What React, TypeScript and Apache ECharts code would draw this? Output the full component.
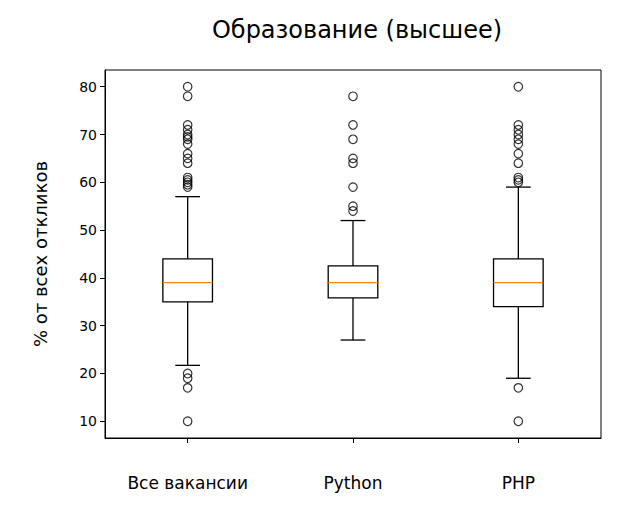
import React, { useEffect, useRef } from "react";
import * as echarts from "echarts";

const categories = ["Все вакансии", "Python", "PHP"];
const whiskerLow = [21.7, 27, 19];
const q1 = [35, 35.8, 34];
const medians = [39, 39, 39];
const q3 = [44, 42.5, 44];
const whiskerHigh = [57, 52, 59];
const outliersAll = [80, 78, 72, 71, 70, 69.5, 69, 68, 66, 65, 64, 61, 60.5, 60, 59.5, 59, 20, 19, 17, 10];
const outliersPython = [78, 72, 69, 65, 64, 59, 55, 54];
const outliersPHP = [80, 72, 71, 70, 69, 68, 66, 64, 61, 60.5, 60, 17, 10];
const yTickValues = [10, 20, 30, 40, 50, 60, 70, 80];
const yRange = { min: 6.5, max: 83.5 };

const FONT = "DejaVu Sans";

export default function App() {
  const ref = useRef<HTMLDivElement>(null);
  useEffect(() => {
    const chart = echarts.init(ref.current!, null, { renderer: "svg" });
    const boxData = categories.map((_, i) => [i, whiskerLow[i], q1[i], medians[i], q3[i], whiskerHigh[i]]);
    const outlierData: number[][] = [];
    [outliersAll, outliersPython, outliersPHP].forEach((arr, i) => arr.forEach((v) => outlierData.push([i, v])));
    const option: any = {
      animation: false,
      backgroundColor: "#ffffff",
      title: {
        text: "Образование (высшее)",
        left: 352,
        textAlign: "center",
        top: 13,
        textStyle: { fontFamily: FONT, fontSize: 24, fontWeight: "normal", color: "#000" },
      },
      grid: { left: 105, right: 38, top: 70, bottom: 76, show: true, borderColor: "#000", borderWidth: 1 },
      xAxis: {
        type: "category",
        data: categories,
        boundaryGap: true,
        axisLine: { show: true, lineStyle: { color: "#000" } },
        axisTick: { show: true, alignWithLabel: true, length: 5, lineStyle: { color: "#000" } },
        axisLabel: { margin: 36, fontFamily: FONT, fontSize: 17, color: "#000" },
        splitLine: { show: false },
      },
      yAxis: {
        type: "value",
        min: yRange.min,
        max: yRange.max,
        name: "% от всех откликов",
        nameLocation: "middle",
        nameRotate: 90,
        nameGap: 56,
        nameTextStyle: { fontFamily: FONT, fontSize: 18, color: "#000" },
        axisLine: { show: true, lineStyle: { color: "#000" } },
        axisTick: { show: true, length: 5, lineStyle: { color: "#000" }, customValues: yTickValues },
        axisLabel: {
          fontFamily: FONT,
          fontSize: 14,
          color: "#000",
          margin: 8,
          customValues: yTickValues,
        },
        splitLine: { show: false },
      },
      series: [
        {
          type: "custom",
          data: boxData,
          renderItem: (params: any, api: any) => {
            const idx = api.value(0);
            const band = api.size([1, 0])[0];
            const hw = band * 0.15;
            const cw = band * 0.075;
            const pLow = api.coord([idx, api.value(1)]);
            const pQ1 = api.coord([idx, api.value(2)]);
            const pMed = api.coord([idx, api.value(3)]);
            const pQ3 = api.coord([idx, api.value(4)]);
            const pHigh = api.coord([idx, api.value(5)]);
            const x = pMed[0];
            const ls = { stroke: "#000", lineWidth: 1.3, fill: "none" };
            return {
              type: "group",
              children: [
                { type: "rect", shape: { x: x - hw, y: pQ3[1], width: 2 * hw, height: pQ1[1] - pQ3[1] }, style: ls },
                { type: "line", shape: { x1: x, y1: pQ1[1], x2: x, y2: pLow[1] }, style: ls },
                { type: "line", shape: { x1: x, y1: pQ3[1], x2: x, y2: pHigh[1] }, style: ls },
                { type: "line", shape: { x1: x - cw, y1: pLow[1], x2: x + cw, y2: pLow[1] }, style: ls },
                { type: "line", shape: { x1: x - cw, y1: pHigh[1], x2: x + cw, y2: pHigh[1] }, style: ls },
                { type: "line", shape: { x1: x - hw, y1: pMed[1], x2: x + hw, y2: pMed[1] }, style: { stroke: "#ff7f0e", lineWidth: 1.3 } },
              ],
            };
          },
        },
        {
          type: "scatter",
          data: outlierData,
          symbol: "circle",
          symbolSize: 8.5,
          itemStyle: { color: "rgba(255,255,255,0)", borderColor: "#000", borderWidth: 1.2 },
        },
      ],
    };
    chart.setOption(option);
    return () => chart.dispose();
  }, []);
  return <div ref={ref} style={{ position: "fixed", left: 0, top: 0, width: 639, height: 514 }} />;
}
